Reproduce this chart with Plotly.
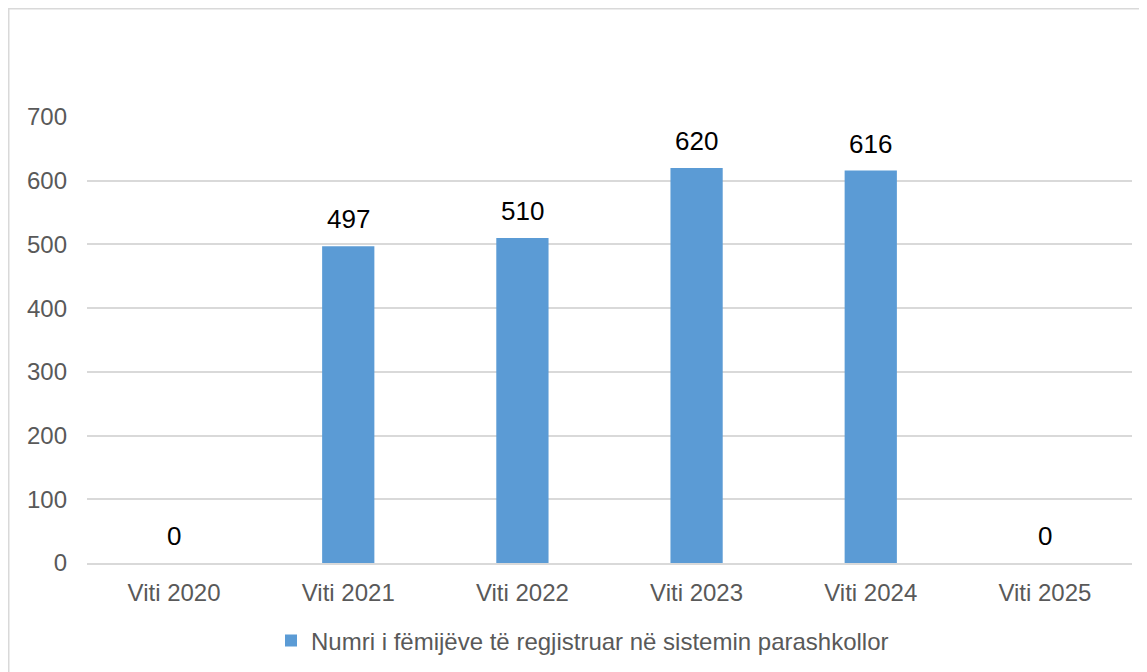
import plotly.graph_objects as go

categories = ["Viti 2020", "Viti 2021", "Viti 2022", "Viti 2023", "Viti 2024", "Viti 2025"]
values = [0, 497, 510, 620, 616, 0]
series_name = "Numri i fëmijëve të regjistruar në sistemin parashkollor"
y_ticks = [0, 100, 200, 300, 400, 500, 600, 700]

FONT = "Arial, Liberation Sans, sans-serif"
BAR = "#5B9BD5"
GRID = "#D9D9D9"
TICK = "#595959"

fig = go.Figure()
fig.add_trace(go.Bar(
    x=categories, y=values, name=series_name,
    marker=dict(color=BAR, line=dict(width=0)),
    width=0.3, showlegend=True,
))

for c, v in zip(categories, values):
    fig.add_annotation(x=c, y=v, text=str(v), showarrow=False,
                       yanchor="middle", yshift=27,
                       font=dict(family=FONT, size=26, color="#000000"))

# figure pixel geometry (page is offset by the 8px body margin)
W, H = 1147, 672
L, R, T, B = 79, 23, 109, 117
pw, ph = W - L - R, H - T - B

def px(x):
    return (x - L) / pw

def py(y):
    return (H - B - y) / ph

fig.add_shape(type="rect", xref="paper", yref="paper",
              x0=px(0.75), x1=px(1200), y0=py(720), y1=py(0.75),
              line=dict(color=GRID, width=1.5), fillcolor="rgba(0,0,0,0)", layer="below")

fig.update_layout(
    width=W, height=H,
    margin=dict(l=L, r=R, t=T, b=B, autoexpand=False),
    paper_bgcolor="white", plot_bgcolor="white",
    font=dict(family=FONT, size=24, color=TICK),
    bargap=0.7,
    showlegend=True,
    legend=dict(orientation="h", x=px(263), xanchor="left", y=py(633), yanchor="middle",
                font=dict(family=FONT, size=24, color=TICK), bgcolor="rgba(0,0,0,0)"),
    xaxis=dict(showgrid=False, showline=True, linecolor=GRID, linewidth=1.5,
               ticks="", ticklabelstandoff=7,
               tickfont=dict(family=FONT, size=24, color=TICK)),
    yaxis=dict(range=[0, 700], tickvals=y_ticks, showgrid=True, gridcolor=GRID, gridwidth=1.5,
               zeroline=False, showline=False, ticks="", ticklabelstandoff=19,
               tickfont=dict(family=FONT, size=24, color=TICK)),
)

fig.write_html("out.html")
